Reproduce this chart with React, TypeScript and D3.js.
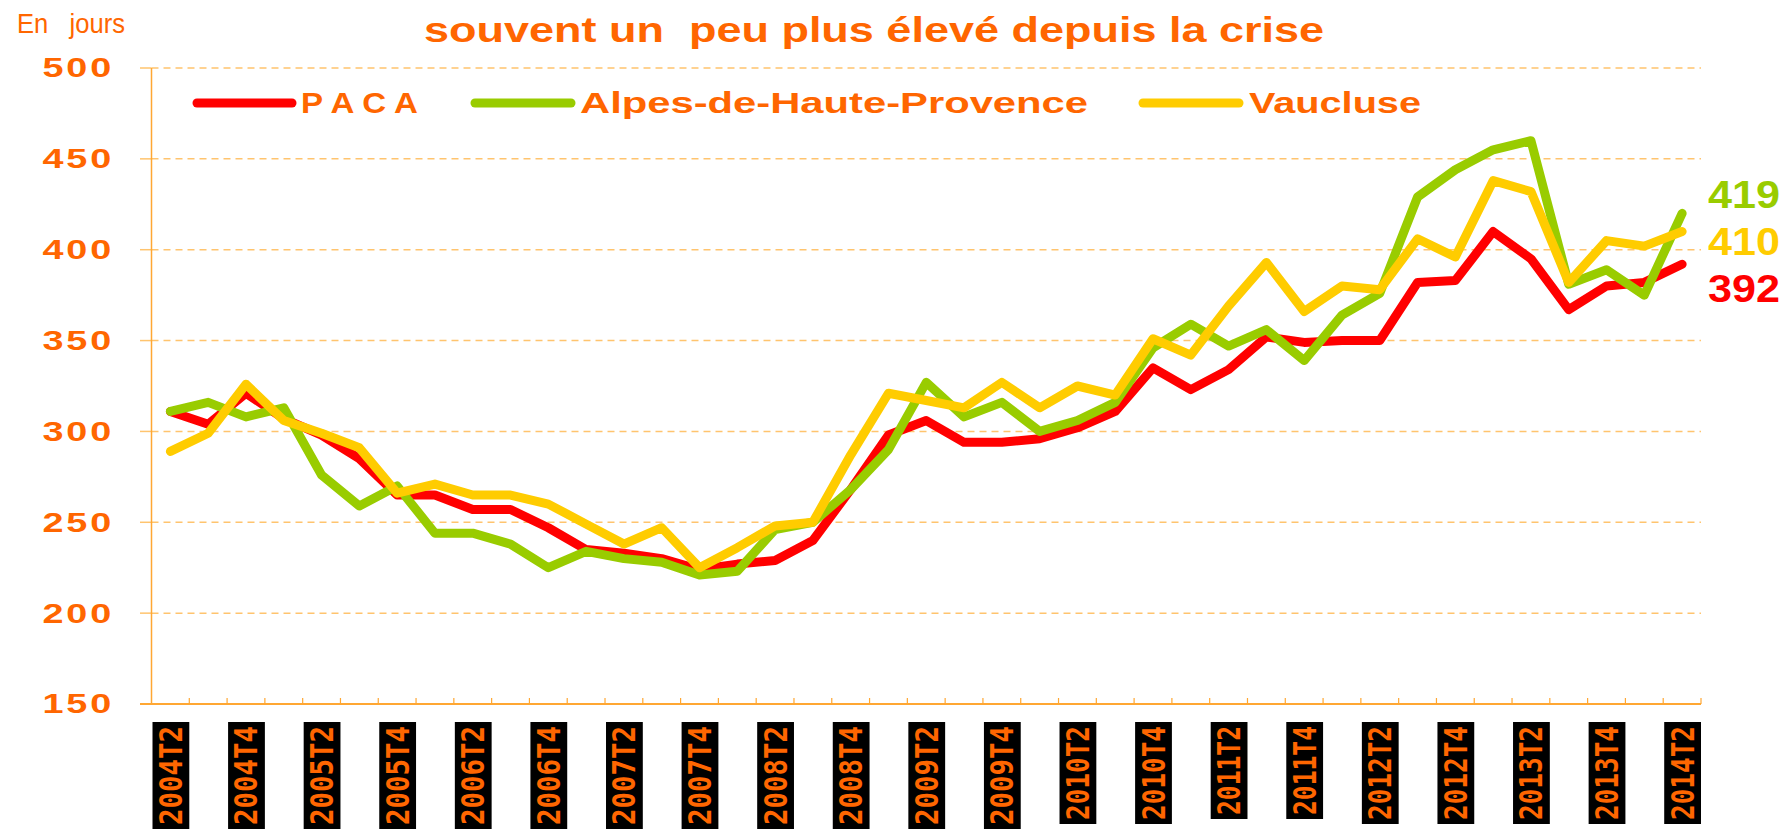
import React from 'react';
import * as d3 from 'd3';

const quarters = [
  '2004T2','2004T3','2004T4','2005T1','2005T2','2005T3','2005T4','2006T1','2006T2','2006T3','2006T4',
  '2007T1','2007T2','2007T3','2007T4','2008T1','2008T2','2008T3','2008T4','2009T1','2009T2','2009T3',
  '2009T4','2010T1','2010T2','2010T3','2010T4','2011T1','2011T2','2011T3','2011T4','2012T1','2012T2',
  '2012T3','2012T4','2013T1','2013T2','2013T3','2013T4','2014T1','2014T2'
];

const tickLabels = [
  '2004T2','2004T4','2005T2','2005T4','2006T2','2006T4','2007T2','2007T4','2008T2','2008T4','2009T2',
  '2009T4','2010T2','2010T4','2011T2','2011T4','2012T2','2012T4','2013T2','2013T4','2014T2'
];

const paca = [311,304,321,307,298,285,265,265,257,257,247,235,233,230,224,227,229,240,268,298,306,294,294,296,302,311,335,323,334,352,349,350,350,382,383,410,395,367,380,382,392];
const alpes = [311,316,308,313,276,259,270,244,244,238,225,234,230,228,221,223,246,250,268,290,327,308,316,300,306,316,346,359,347,356,339,364,376,429,444,455,460,381,389,375,420];
const vaucluse = [289,299,326,306,299,291,266,271,265,265,260,249,238,247,225,236,248,250,287,321,317,313,327,313,325,320,351,342,369,393,366,380,378,406,396,438,432,382,405,402,410];

const yTicks = [150,200,250,300,350,400,450,500];

const seriesNames = ['P A C A','Alpes-de-Haute-Provence','Vaucluse'];
const seriesColors = ['#FF0000','#99CC00','#FFCC00'];
const seriesData = [paca, alpes, vaucluse];
const endLabels = ['392','419','410'];

const W = 1780, H = 829;
const ORANGE = '#FF6600';
const AXIS = '#FFA733';
const GRID = '#FFC46E';
const FONT = "'Liberation Sans', Arial, sans-serif";

export default function App() {
  const x = d3.scaleBand<string>().domain(quarters).range([151.5, 1701]).paddingInner(0).paddingOuter(0);
  const y = d3.scaleLinear().domain([150, 500]).range([704, 68]);
  const bw = x.bandwidth();
  const cx = (i: number) => (x(quarters[i]) as number) + bw / 2;
  const line = d3.line<number>().x((_, i) => cx(i)).y(d => y(d));

  const legendItems = [
    { lx1: 197, lx2: 292, tx: 301, tw: 117 },
    { lx1: 475, lx2: 571, tx: 580, tw: 508 },
    { lx1: 1143, lx2: 1239, tx: 1249, tw: 172 },
  ];
  const legendY = 103;

  const drawOrder = [0, 1, 2];

  return (
    <svg width={W} height={H} style={{ position: 'absolute', left: 0, top: 0, display: 'block', background: '#fff' }} fontFamily={FONT}>
      {/* title */}
      <text x={17} y={33} fontSize={28} fill={ORANGE} textLength={108} lengthAdjust="spacingAndGlyphs" style={{ whiteSpace: 'pre' }}>En   jours</text>
      <text x={424} y={42} fontSize={35} fontWeight="bold" fill={ORANGE} textLength={900} lengthAdjust="spacingAndGlyphs" style={{ whiteSpace: 'pre' }}>souvent un  peu plus élevé depuis la crise</text>

      {/* grid */}
      {yTicks.filter(t => t !== 150).map(t => (
        <line key={'g' + t} x1={151.5} x2={1701} y1={y(t)} y2={y(t)} stroke={GRID} strokeWidth={1.5} strokeDasharray="7,5" />
      ))}
      {yTicks.map(t => (
        <line key={'yt' + t} x1={140} x2={151.5} y1={y(t)} y2={y(t)} stroke={GRID} strokeWidth={1.5} />
      ))}
      {/* axes */}
      <line x1={151.5} x2={151.5} y1={y(500)} y2={y(150)} stroke={AXIS} strokeWidth={1.5} />
      <line x1={140} x2={1701} y1={y(150)} y2={y(150)} stroke={AXIS} strokeWidth={2} />
      {quarters.map((q) => (
        <line key={'xt' + q} x1={(x(q) as number) + bw} x2={(x(q) as number) + bw} y1={y(150)} y2={y(150) - 6} stroke={AXIS} strokeWidth={1.2} />
      ))}

      {/* y labels */}
      {yTicks.map(t => (
        <text key={'yl' + t} transform={`translate(114,${y(t)}) scale(1.4,1)`} textAnchor="end" dominantBaseline="central" fontSize={27} fontWeight="bold" fill={ORANGE} letterSpacing={2}>{t}</text>
      ))}

      {/* x labels */}
      {tickLabels.map(lbl => {
        const x0 = x(lbl) as number;
        const ones = (lbl.match(/1/g) || []).length;
        const len = 107 - ones * 5;
        const top = 722;
        return (
          <g key={'xl' + lbl}>
            <rect x={x0 + 1} y={top} width={bw - 1} height={len} fill="#000" />
            <text transform={`translate(${x0 + bw / 2 + 0.5},${top + len - 4}) rotate(-90)`} dominantBaseline="central" fontFamily="'DejaVu Sans Mono', monospace" fontWeight="bold" fontSize={32} fill={ORANGE} textLength={len - 8} lengthAdjust="spacingAndGlyphs">{lbl}</text>
          </g>
        );
      })}

      {/* series */}
      {drawOrder.map(k => (
        <path key={'s' + k} d={line(seriesData[k]) as string} fill="none" stroke={seriesColors[k]} strokeWidth={9} strokeLinejoin="round" strokeLinecap="round" />
      ))}

      {/* legend */}
      {legendItems.map((it, k) => (
        <g key={'lg' + k}>
          <line x1={it.lx1} x2={it.lx2} y1={legendY} y2={legendY} stroke={seriesColors[k]} strokeWidth={9} strokeLinecap="round" />
          <text x={it.tx} y={legendY} dominantBaseline="central" fontSize={29} fontWeight="bold" fill={ORANGE} textLength={it.tw} lengthAdjust="spacingAndGlyphs" style={{ whiteSpace: 'pre' }}>{seriesNames[k]}</text>
        </g>
      ))}

      {/* end labels */}
      {[1, 2, 0].map(k => {
        const ly = k === 1 ? 195 : k === 2 ? 242 : 289;
        return (
          <text key={'el' + k} x={1708} y={ly} dominantBaseline="central" fontSize={38} fontWeight="bold" fill={seriesColors[k]} textLength={72} lengthAdjust="spacingAndGlyphs">{endLabels[k]}</text>
        );
      })}
    </svg>
  );
}
